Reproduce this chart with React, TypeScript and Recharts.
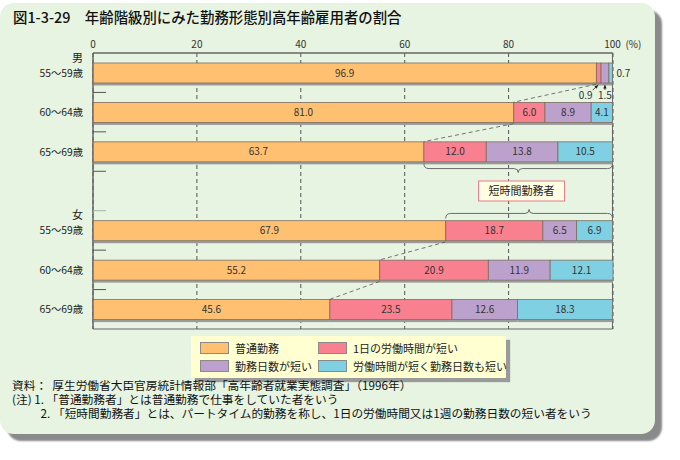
import React from 'react'
import {
  BarChart,
  Bar,
  XAxis,
  YAxis,
  CartesianGrid,
  ReferenceLine,
  ReferenceDot,
  ReferenceArea,
} from 'recharts'

// rows: men 55-69, one empty spacer row, women 55-69
const groups = ['m55', 'm60', 'm65', 'gap', 'f55', 'f60', 'f65']
const sexLabels = ['男', '', '', '', '女', '', '']
const ageLabels = ['55〜59歳', '60〜64歳', '65〜69歳', '', '55〜59歳', '60〜64歳', '65〜69歳']

const regular = [96.9, 81.0, 63.7, null, 67.9, 55.2, 45.6]
const shortHours = [0.9, 6.0, 12.0, null, 18.7, 20.9, 23.5]
const shortDays = [1.5, 8.9, 13.8, null, 6.5, 11.9, 12.6]
const shortBoth = [0.7, 4.1, 10.5, null, 6.9, 12.1, 18.3]

const seriesKeys = ['regular', 'shortHours', 'shortDays', 'shortBoth']
const seriesNames = ['普通勤務', '1日の労働時間が短い', '勤務日数が短い', '労働時間が短く勤務日数も短い']
const seriesColors = ['#FFC171', '#F9818F', '#BDA1CD', '#7FD0E2']

const xTicks = [0, 20, 40, 60, 80, 100]
const connectors = [
  ['m55', 'm60'],
  ['m60', 'm65'],
  ['f55', 'f60'],
  ['f60', 'f65'],
]
const shortGroupLabel = '短時間勤務者'

const title = '図1-3-29　年齢階級別にみた勤務形態別高年齢雇用者の割合'
const notes = [
  '資料：  厚生労働省大臣官房統計情報部「高年齢者就業実態調査」（1996年）',
  '(注) 1. 「普通勤務者」とは普通勤務で仕事をしていた者をいう',
  '　　  2. 「短時間勤務者」とは、パートタイム的勤務を称し、1日の労働時間又は1週の勤務日数の短い者をいう',
]

const data = groups.map((g, i) => ({
  group: g,
  regular: regular[i],
  shortHours: shortHours[i],
  shortDays: shortDays[i],
  shortBoth: shortBoth[i],
}))

const FONT = '"Noto Sans CJK JP", "Noto Sans", sans-serif'
const PLOT_LEFT = 93
const PLOT_TOP = 53
const PLOT_BOTTOM = 329
const BAR = 20
const STEP = (PLOT_BOTTOM - PLOT_TOP) / groups.length

const valueOf = (group: string, arr: (number | null)[]) => arr[groups.indexOf(group)] as number

function Arrow({ x1, y1, x2, y2 }: any) {
  const a = Math.atan2(y2 - y1, x2 - x1)
  const l = 4
  const p1 = [x2 - l * Math.cos(a - 0.45), y2 - l * Math.sin(a - 0.45)]
  const p2 = [x2 - l * Math.cos(a + 0.45), y2 - l * Math.sin(a + 0.45)]
  return (
    <g>
      <line x1={x1} y1={y1} x2={x2} y2={y2} stroke="#222" strokeWidth={0.8} />
      <polygon points={`${x2},${y2} ${p1[0]},${p1[1]} ${p2[0]},${p2[1]}`} fill="#222" />
    </g>
  )
}

// tiny segments get their numbers outside the bar
function smallLabel(key: string, x: number, y: number, w: number, h: number, text: string) {
  const cx = x + w / 2
  const below = y + h
  if (key === 'shortHours') {
    return (
      <g>
        <text x={cx - 13} y={below + 16} textAnchor="middle" fontSize={10} fill="#333">{text}</text>
        <Arrow x1={cx - 6} y1={below + 7} x2={cx - 0.5} y2={below + 2} />
      </g>
    )
  }
  if (key === 'shortDays') {
    return (
      <g>
        <text x={cx} y={below + 16} textAnchor="middle" fontSize={10} fill="#333">{text}</text>
        <Arrow x1={cx} y1={below + 7} x2={cx} y2={below + 2} />
      </g>
    )
  }
  return (
    <text x={x + w + 4} y={y + h / 2 + 3.5} textAnchor="start" fontSize={10} fill="#333">{text}</text>
  )
}

const makeShape = (key: string, color: string) => (props: any) => {
  const { x, y, width, height, payload } = props
  const v = payload ? payload[key] : null
  if (v == null || !width) return <g />
  const small = v < 2
  return (
    <g>
      <rect x={x} y={y + height} width={width} height={2.5} fill="#9b9b9b" />
      <rect x={x} y={y} width={width} height={height} fill={color} stroke="#7a6c60" strokeWidth={0.8} />
      {!small && (
        <text x={x + width / 2} y={y + height / 2 + 3.5} textAnchor="middle" fontSize={10} fill="#333">
          {v.toFixed(1)}
        </text>
      )}
      {small && smallLabel(key, x, y, width, height, v.toFixed(1))}
    </g>
  )
}

function TopTick({ x, y, payload }: any) {
  return (
    <g>
      <text x={x} y={y} dy={3} textAnchor="middle" fontSize={10} fill="#333">{payload.value}</text>
      {payload.value === 100 && (
        <text x={x + 13} y={y} dy={3} textAnchor="start" fontSize={10} fill="#333">(%)</text>
      )}
    </g>
  )
}

function CatTick({ y, index }: any) {
  const tx = PLOT_LEFT - 10
  const boundary = y + STEP / 2
  return (
    <g>
      {sexLabels[index] && (
        <text x={tx} y={y - 11} textAnchor="end" fontSize={11} fill="#222">{sexLabels[index]}</text>
      )}
      <text x={tx} y={y + 4} textAnchor="end" fontSize={10.3} fill="#222">{ageLabels[index]}</text>
      {index < groups.length - 1 && (
        <line
          x1={PLOT_LEFT}
          x2={PLOT_LEFT + 13}
          y1={boundary}
          y2={boundary}
          stroke={index === 3 ? '#a9b3a6' : '#555'}
          strokeWidth={1}
        />
      )}
    </g>
  )
}

const connectorShape = (props: any) => {
  const { x1, y1, x2, y2 } = props
  return (
    <line
      x1={x1}
      y1={y1 + BAR / 2 + 1.5}
      x2={x2}
      y2={y2 - BAR / 2}
      stroke="#555"
      strokeWidth={0.8}
      strokeDasharray="4 3"
    />
  )
}

const braceShape = (dir: number) => (props: any) => {
  const { x1, y1, x2 } = props
  const y0 = y1 + dir * (BAR / 2 + 2)
  const yh = y0 + dir * 5
  const yt = y0 + dir * 9
  const xm = (x1 + x2) / 2
  const d = `M${x1},${y0} Q${x1},${yh} ${x1 + 5},${yh} L${xm - 4},${yh} Q${xm},${yh} ${xm},${yt} Q${xm},${yh} ${xm + 4},${yh} L${x2 - 5},${yh} Q${x2},${yh} ${x2},${y0}`
  return <path d={d} fill="none" stroke="#6b6b6b" strokeWidth={1} />
}

const boxShape = (props: any) => {
  const { cx, cy } = props
  return (
    <g>
      <rect x={cx - 43} y={cy - 10} width={86} height={20} fill="#FFFFE4" stroke="#E57A8A" strokeWidth={1} />
      <text x={cx} y={cy + 4} textAnchor="middle" fontSize={11} fill="#222">{shortGroupLabel}</text>
    </g>
  )
}

export default function App() {
  return (
    <div style={{ position: 'absolute', left: 0, top: 0, width: 680, height: 460, fontFamily: FONT }}>
      <div
        style={{
          position: 'absolute',
          left: 0,
          top: 3,
          width: 655,
          height: 431,
          background: '#E6F4E1',
          borderRadius: 14,
          boxShadow: '7px 7px 2px #8a8a8a',
        }}
      />
      <div
        style={{
          position: 'absolute',
          left: 13,
          top: 9,
          fontSize: 14.4,
          fontWeight: 500,
          lineHeight: '16px',
          color: '#111',
          whiteSpace: 'nowrap',
        }}
      >
        {title}
      </div>
      <div style={{ position: 'absolute', left: 0, top: 0 }}>
        <BarChart
          width={680}
          height={460}
          data={data}
          layout="vertical"
          barSize={BAR}
          margin={{ top: 33, right: 67, bottom: 131, left: 0 }}
          style={{ fontFamily: FONT }}
        >
          <CartesianGrid horizontal={false} stroke="#555" strokeDasharray="4 3" />
          <XAxis
            type="number"
            domain={[0, 100]}
            ticks={xTicks}
            orientation="top"
            height={20}
            axisLine={{ stroke: '#666' }}
            tickLine={false}
            tick={TopTick}
            interval={0}
          />
          <YAxis
            type="category"
            dataKey="group"
            width={93}
            axisLine={{ stroke: '#666' }}
            tickLine={false}
            tick={CatTick}
            interval={0}
          />
          {seriesKeys.map((k, i) => (
            <Bar
              key={k}
              dataKey={k}
              name={seriesNames[i]}
              stackId="a"
              fill={seriesColors[i]}
              isAnimationActive={false}
              shape={makeShape(k, seriesColors[i])}
            />
          ))}
          <ReferenceArea x1={0} x2={100} fill="none" stroke="#666" strokeWidth={1} fillOpacity={0} />
          {connectors.map(([a, b]) => (
            <ReferenceLine
              key={a + b}
              segment={[
                { x: valueOf(a, regular), y: a },
                { x: valueOf(b, regular), y: b },
              ]}
              shape={connectorShape}
            />
          ))}
          <ReferenceLine
            segment={[
              { x: valueOf('m65', regular), y: 'm65' },
              { x: 100, y: 'm65' },
            ]}
            shape={braceShape(1)}
          />
          <ReferenceLine
            segment={[
              { x: valueOf('f55', regular), y: 'f55' },
              { x: 100, y: 'f55' },
            ]}
            shape={braceShape(-1)}
          />
          <ReferenceDot x={82.5} y="gap" r={1} shape={boxShape} />
        </BarChart>
      </div>
      <div
        style={{
          position: 'absolute',
          left: 191,
          top: 336,
          width: 315,
          height: 42,
          background: '#FFFFD2',
          boxShadow: '4px 4px 1px #9a9a9a',
        }}
      >
        {seriesNames.map((n, i) => (
          <div
            key={n}
            style={{
              position: 'absolute',
              left: i % 2 === 0 ? 9 : 127,
              top: i < 2 ? 5 : 23,
              height: 14,
              display: 'flex',
              alignItems: 'center',
              fontSize: 11,
              lineHeight: '14px',
              color: '#222',
              whiteSpace: 'nowrap',
            }}
          >
            <span
              style={{
                display: 'inline-block',
                width: 27,
                height: 10,
                background: seriesColors[i],
                border: '1px solid #8a8a8a',
                marginRight: 6,
              }}
            />
            {n}
          </div>
        ))}
      </div>
      <div
        style={{
          position: 'absolute',
          left: 12,
          top: 378,
          fontSize: 11.7,
          lineHeight: '14px',
          color: '#111',
          whiteSpace: 'pre',
        }}
      >
        {notes.map((t) => (
          <div key={t} style={{ height: 14 }}>{t}</div>
        ))}
      </div>
    </div>
  )
}
